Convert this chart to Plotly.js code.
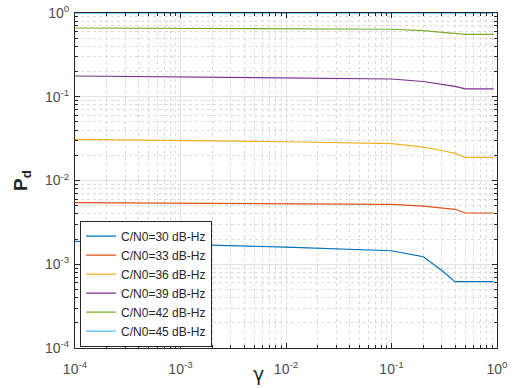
<!DOCTYPE html>
<html>
<head>
<meta charset="utf-8">
<script src="https://cdn.plot.ly/plotly-3.0.1.min.js"></script>
<style>html,body{margin:0;padding:0;background:#fff;}#plot{width:518px;height:388px;}</style>
</head>
<body>
<div id="plot"></div>
<script>
// gamma values (x)
const gamma = [0.0001, 0.001, 0.01, 0.1, 0.2, 0.3, 0.4, 0.5, 0.93];
// Pd for each C/N0
const pd30 = [1.88e-3, 1.75e-3, 1.60e-3, 1.45e-3, 1.23e-3, 8.4e-4, 6.2e-4, 6.2e-4, 6.2e-4];
const pd33 = [5.43e-3, 5.35e-3, 5.28e-3, 5.20e-3, 4.95e-3, 4.72e-3, 4.53e-3, 4.09e-3, 4.09e-3];
const pd36 = [0.031, 0.030, 0.029, 0.0275, 0.025, 0.0228, 0.0211, 0.0189, 0.0189];
const pd39 = [0.177, 0.172, 0.168, 0.163, 0.152, 0.142, 0.133, 0.124, 0.124];
const pd42 = [0.662, 0.655, 0.648, 0.640, 0.615, 0.590, 0.570, 0.556, 0.556];
const pd45 = [0.999, 0.999, 0.999, 0.999, 0.999, 0.999, 0.999, 0.999, 0.999];
const names = ['C/N0=30 dB-Hz','C/N0=33 dB-Hz','C/N0=36 dB-Hz','C/N0=39 dB-Hz','C/N0=42 dB-Hz','C/N0=45 dB-Hz'];
const colors = ['#0072BD','#D95319','#EDB120','#7E2F8E','#77AC30','#4DBEEE'];
const series = [pd30, pd33, pd36, pd39, pd42, pd45];
const tickVals = [1e-4, 1e-3, 1e-2, 1e-1, 1];
const tickText = ['10<sup>-4</sup>','10<sup>-3</sup>','10<sup>-2</sup>','10<sup>-1</sup>','10<sup>0</sup>'];

const traces = series.map((y, i) => ({
  x: gamma, y: y, type: 'scatter', mode: 'lines', name: names[i],
  line: {color: colors[i], width: 1.2}
}));

const axisCommon = {
  type: 'log',
  tickvals: tickVals, ticktext: tickText,
  showline: true, linecolor: '#262626', linewidth: 1, mirror: 'allticks',
  ticks: 'inside', ticklen: 5, tickcolor: '#262626',
  showgrid: true, gridcolor: '#e3e3e3', gridwidth: 1,
  zeroline: false,
  tickfont: {family: 'Liberation Sans, Arial, sans-serif', size: 14, color: '#4d4d4d'},
  minor: {dtick: 'D1', ticks: 'inside', ticklen: 3, tickcolor: '#262626', showgrid: true, gridcolor: '#dcdcdc', griddash: 'dot', gridwidth: 1}
};

const layout = {
  width: 518, height: 388,
  margin: {l: 75, r: 21, t: 13, b: 40},
  paper_bgcolor: '#ffffff', plot_bgcolor: '#ffffff',
  showlegend: true,
  xaxis: Object.assign({}, axisCommon, {range: [-4, 0], ticklabelstandoff: 8}),
  yaxis: Object.assign({}, axisCommon, {range: [-4, 0], ticklabelstandoff: 2,
    title: {text: '<b>P<sub>d</sub></b>', font: {family: 'Liberation Sans, Arial, sans-serif', size: 19, color: '#262626'}, standoff: 12}}),
  legend: {
    x: 0.012, y: 0.004, xanchor: 'left', yanchor: 'bottom',
    bgcolor: '#ffffff', bordercolor: '#262626', borderwidth: 1,
    font: {family: 'Liberation Sans, Arial, sans-serif', size: 12, color: '#262626'},
    tracegroupgap: 0
  },
  annotations: [{
    text: 'γ', xref: 'paper', yref: 'paper', x: (258-75)/422, y: (348-374)/335,
    xanchor: 'center', yanchor: 'middle', showarrow: false,
    font: {family: 'DejaVu Sans, Liberation Sans, sans-serif', size: 19, color: '#262626'}
  }]
};

Plotly.newPlot('plot', traces, layout, {displayModeBar: false, staticPlot: true});
</script>
</body>
</html>
